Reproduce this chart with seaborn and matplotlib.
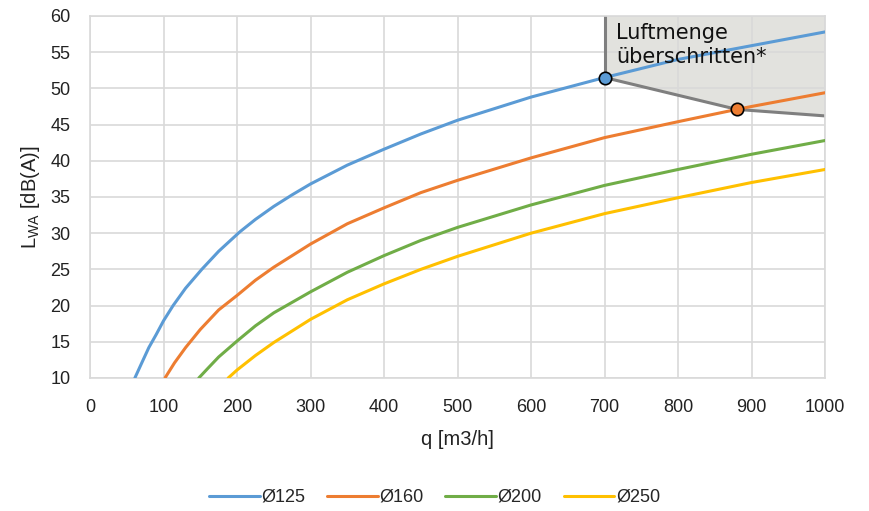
import numpy as np
import pandas as pd
import matplotlib
matplotlib.use('Agg')
import matplotlib.pyplot as plt
import seaborn as sns

# curves (q in m3/h, L_WA in dB(A))
q_125 = [61, 70, 80, 90, 100, 113, 130, 152, 175, 190, 204, 225, 250, 275, 300, 350, 400, 450, 500, 600, 700, 800, 900, 1000]
l_125 = [10, 12.0, 14.2, 16.0, 17.9, 20.0, 22.4, 25.0, 27.5, 28.9, 30.2, 31.9, 33.7, 35.3, 36.8, 39.4, 41.6, 43.7, 45.6, 48.8, 51.5, 54.0, 55.9, 57.8]

q_160 = [102, 115, 130, 150, 175, 200, 225, 250, 300, 350, 400, 450, 500, 600, 700, 800, 880, 900, 1000]
l_160 = [10, 12.1, 14.2, 16.7, 19.4, 21.4, 23.5, 25.3, 28.5, 31.3, 33.5, 35.6, 37.3, 40.4, 43.2, 45.4, 47.1, 47.5, 49.4]

q_200 = [148, 160, 175, 200, 225, 250, 300, 350, 400, 450, 500, 600, 700, 800, 900, 1000]
l_200 = [10, 11.3, 12.9, 15.1, 17.2, 19.0, 21.9, 24.6, 26.9, 29.0, 30.8, 33.9, 36.6, 38.8, 40.9, 42.8]

q_250 = [188, 200, 225, 250, 300, 350, 400, 450, 500, 600, 700, 800, 900, 1000]
l_250 = [10, 11.1, 13.1, 14.9, 18.1, 20.8, 23.0, 25.0, 26.8, 30.0, 32.7, 34.9, 37.0, 38.8]

labels = ['Ø125', 'Ø160', 'Ø200', 'Ø250']
colors = ['#5b9bd5', '#ed7d31', '#70ad47', '#ffc000']

# limit line ("Luftmenge überschritten")
limit_q = [700, 880, 1000]
limit_l = [51.5, 47.1, 46.2]
points_q = [700, 880]
points_l = [51.5, 47.1]

frames = []
for name, q, l in zip(labels, [q_125, q_160, q_200, q_250], [l_125, l_160, l_200, l_250]):
    frames.append(pd.DataFrame({'q': q, 'L': l, 'Typ': name}))
df = pd.concat(frames, ignore_index=True)

sns.set_style('white')
plt.rcParams['font.family'] = ['Liberation Sans', 'DejaVu Sans']

fig = plt.figure(figsize=(8.69, 5.11), dpi=100)
ax = fig.add_axes([0.1036, 0.2603, 0.8458, 0.7084])

# shaded area above the limit
ax.fill_between(limit_q, limit_l, 60, color='#e2e2de', zorder=0.3, linewidth=0)

sns.lineplot(data=df, x='q', y='L', hue='Typ', palette=colors, sort=False,
             linewidth=2.2, ax=ax, zorder=3)

ax.plot(limit_q, limit_l, color='#7f7f7f', linewidth=2.2, zorder=2.5)
ax.plot([limit_q[0], limit_q[0]], [limit_l[0], 60], color='#7f7f7f', linewidth=2.2, zorder=2.5)
ax.scatter(points_q[:1], points_l[:1], s=80, color=colors[0], edgecolor='black', linewidth=1.2, zorder=5)
ax.scatter(points_q[1:], points_l[1:], s=80, color=colors[1], edgecolor='black', linewidth=1.2, zorder=5)

ax.text(716, 59.1, 'Luftmenge\nüberschritten*', fontsize=15, family=['DejaVu Sans'],
        va='top', ha='left', color='#111111', linespacing=1.3, zorder=6)

ax.set_xlim(0, 1000)
ax.set_ylim(10, 60)
ax.set_xticks(np.arange(0, 1001, 100))
ax.set_yticks(np.arange(10, 61, 5))
ax.grid(True, color='#d9d9d9', linewidth=1.2)
ax.set_axisbelow(True)
for s in ax.spines.values():
    s.set_color('#d9d9d9')
    s.set_linewidth(1.2)
ax.tick_params(axis='both', length=0, labelsize=13, colors='#222222')
ax.tick_params(axis='x', pad=15)
ax.tick_params(axis='y', pad=14)

ax.set_xlabel('q [m3/h]', fontsize=14.5, color='#222222', labelpad=10)
ax.set_ylabel(r'$\mathregular{L_{WA}}$ [dB(A)]', fontsize=14.5, color='#222222', labelpad=6)

handles, leg_labels = ax.get_legend_handles_labels()
ax.legend_.remove()
fig.legend(handles[:4], leg_labels[:4], loc='lower center', ncol=4, frameon=False,
           bbox_to_anchor=(0.5, -0.022), fontsize=13, handlelength=2.8, handletextpad=0.1,
           columnspacing=1.2)

fig.savefig('out.png', dpi=100)
